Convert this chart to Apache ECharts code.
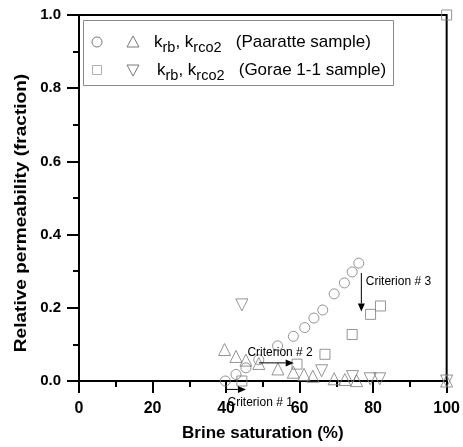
<!DOCTYPE html>
<html><head><meta charset="utf-8">
<script src="https://cdn.jsdelivr.net/npm/echarts@6/dist/echarts.min.js"></script>
<style>html,body{margin:0;padding:0;background:#fff}#c{width:463px;height:447px}</style>
</head><body><div id="c"></div>
<script>
// Paaratte sample
const paaratteSwKrb = [39.8, 42.7, 45.4, 48.9, 54.0, 58.3, 61.4, 63.9, 66.3, 69.4, 72.2, 74.3, 76.1];
const paaratteKrb   = [0.000, 0.018, 0.036, 0.058, 0.096, 0.122, 0.146, 0.172, 0.194, 0.238, 0.268, 0.298, 0.322];
const paaratteSwCo2 = [39.6, 42.7, 45.4, 48.9, 54.1, 58.3, 61.2, 63.6, 69.4, 72.3, 75.5, 100];
const paaratteKrco2 = [0.086, 0.067, 0.057, 0.048, 0.033, 0.024, 0.018, 0.013, 0.006, 0.004, 0.001, 0.000];
// Gorae 1-1 sample
const goraeSwKrb = [44.3, 59.3, 66.9, 74.3, 79.3, 82.0, 100];
const goraeKrb   = [0.000, 0.046, 0.073, 0.127, 0.182, 0.205, 1.000];
const goraeSwCo2 = [44.3, 66.0, 74.4, 79.2, 81.8, 100];
const goraeKrco2 = [0.208, 0.028, 0.012, 0.006, 0.006, 0.000];
// annotations (data coordinates)
const criterionLabels = ['Criterion # 1', 'Criterion # 2', 'Criterion # 3'];
const criterionText = [[40.4, -0.060], [45.8, 0.078], [78.0, 0.271]];
const criterionArrows = [
  [[40.0, -0.023], [45.4, -0.023]],
  [[48.9, 0.0495], [58.4, 0.0495]],
  [[76.8, 0.295], [76.8, 0.190]]
];
const xMin = 0, xMax = 100, xStep = 20;
const yMin = 0, yMax = 1.0, yStep = 0.2;

const zip = (xs, ys) => xs.map((x, i) => [x, ys[i]]);
const gray = '#7a7a7a';
const font = 'Liberation Sans, Arial, sans-serif';
const hollow = { color: 'rgba(0,0,0,0)', borderColor: gray, borderWidth: 1 };

const chart = echarts.init(document.getElementById('c'), null, { renderer: 'canvas' });

const legendRich = {
  k: { fontSize: 17, fontFamily: font, color: '#000', verticalAlign: 'middle', lineHeight: 26 },
  s: { fontSize: 14.5, fontFamily: font, color: '#000', verticalAlign: 'bottom', lineHeight: 26 }
};

const tickStyle = { color: '#000', width: 2 };

chart.setOption({
  animation: false,
  backgroundColor: '#fff',
  grid: { left: 79, right: 15, top: 15, bottom: 64.5, show: true, borderColor: '#000', borderWidth: 2, backgroundColor: 'rgba(0,0,0,0)' },
  xAxis: {
    type: 'value', min: xMin, max: xMax, interval: xStep,
    name: 'Brine saturation (%)', nameLocation: 'middle', nameGap: 44,
    nameTextStyle: { fontFamily: font, fontWeight: 'bold', fontSize: 17, color: '#000' },
    axisLine: { show: true, lineStyle: { color: '#000', width: 2 } },
    axisTick: { show: true, inside: false, length: 12, lineStyle: tickStyle },
    minorTick: { show: true, splitNumber: 2, length: 6, lineStyle: tickStyle },
    axisLabel: { margin: 20, fontFamily: font, fontWeight: 'bold', fontSize: 16, color: '#000' },
    splitLine: { show: false }, minorSplitLine: { show: false }
  },
  yAxis: {
    type: 'value', min: yMin, max: yMax, interval: yStep,
    axisLine: { show: true, lineStyle: { color: '#000', width: 2 } },
    axisTick: { show: true, inside: false, length: 12, lineStyle: tickStyle },
    minorTick: { show: true, splitNumber: 2, length: 6, lineStyle: tickStyle },
    axisLabel: { margin: 18, fontFamily: font, fontWeight: 'bold', fontSize: 15, color: '#000', formatter: v => v.toFixed(1) },
    splitLine: { show: false }, minorSplitLine: { show: false }
  },
  series: [
    { type: 'scatter', name: 'krb Paaratte', data: zip(paaratteSwKrb, paaratteKrb), symbol: 'circle', symbolSize: 10, itemStyle: hollow, clip: false, z: 3 },
    { type: 'scatter', name: 'krco2 Paaratte', data: zip(paaratteSwCo2, paaratteKrco2), symbol: 'triangle', symbolSize: 12, itemStyle: hollow, clip: false, z: 3 },
    { type: 'scatter', name: 'krb Gorae', data: zip(goraeSwKrb, goraeKrb), symbol: 'rect', symbolSize: 10, itemStyle: hollow, clip: false, z: 3 },
    { type: 'scatter', name: 'krco2 Gorae', data: zip(goraeSwCo2, goraeKrco2), symbol: 'triangle', symbolRotate: 180, symbolSize: 12, itemStyle: hollow, clip: false, z: 3 }
  ]
});

// annotations placed through the axes' own scales
const px = c => chart.convertToPixel({ gridIndex: 0 }, c);
const graphics = [
  { type: 'text', x: 21, y: 213, rotation: Math.PI / 2, scaleX: 1.12, style: { text: 'Relative permeability (fraction)', font: 'bold 17px ' + font, fill: '#000', align: 'center', verticalAlign: 'middle' } },
  { type: 'rect', shape: { x: 83.5, y: 20.5, width: 310, height: 65 }, style: { fill: '#fff', stroke: '#8a8a8a', lineWidth: 1 }, z: 10 },
  { type: 'circle', shape: { cx: 97, cy: 42, r: 5 }, style: { fill: 'none', stroke: gray, lineWidth: 1 }, z: 11 },
  { type: 'polygon', shape: { points: [[133, 36], [139, 47], [127, 47]] }, style: { fill: 'none', stroke: gray, lineWidth: 1 }, z: 11 },
  { type: 'rect', shape: { x: 92.5, y: 65.5, width: 9, height: 9 }, style: { fill: 'none', stroke: '#b0b0b0', lineWidth: 1 }, z: 11 },
  { type: 'polygon', shape: { points: [[127, 65], [139, 65], [133, 76]] }, style: { fill: 'none', stroke: gray, lineWidth: 1 }, z: 11 },
  { type: 'text', x: 154, y: 42, z: 11, style: { text: '{k|k}{s|rb}{k|, k}{s|rco2}{k|   (Paaratte sample)}', rich: legendRich, verticalAlign: 'middle' } },
  { type: 'text', x: 157, y: 70, z: 11, style: { text: '{k|k}{s|rb}{k|, k}{s|rco2}{k|   (Gorae 1-1 sample)}', rich: legendRich, verticalAlign: 'middle' } }
];
criterionText.forEach((c, i) => {
  const p = px(c);
  graphics.push({ type: 'text', x: p[0], y: p[1], z: 20, style: { text: criterionLabels[i], font: '12px ' + font, fill: '#000', align: 'left', verticalAlign: 'middle' } });
});
criterionArrows.forEach(a => {
  const p0 = px(a[0]), p1 = px(a[1]);
  const dx = p1[0] - p0[0], dy = p1[1] - p0[1];
  const len = Math.hypot(dx, dy), ux = dx / len, uy = dy / len;
  const hl = 8, hw = 3.5;
  const bx = p1[0] - ux * hl, by = p1[1] - uy * hl;
  graphics.push({ type: 'line', z: 20, shape: { x1: p0[0], y1: p0[1], x2: bx, y2: by }, style: { stroke: '#000', lineWidth: 1 } });
  graphics.push({ type: 'polygon', z: 20, shape: { points: [[p1[0], p1[1]], [bx - uy * hw, by + ux * hw], [bx + uy * hw, by - ux * hw]] }, style: { fill: '#000' } });
});
chart.setOption({ graphic: graphics });
</script>
</body></html>
